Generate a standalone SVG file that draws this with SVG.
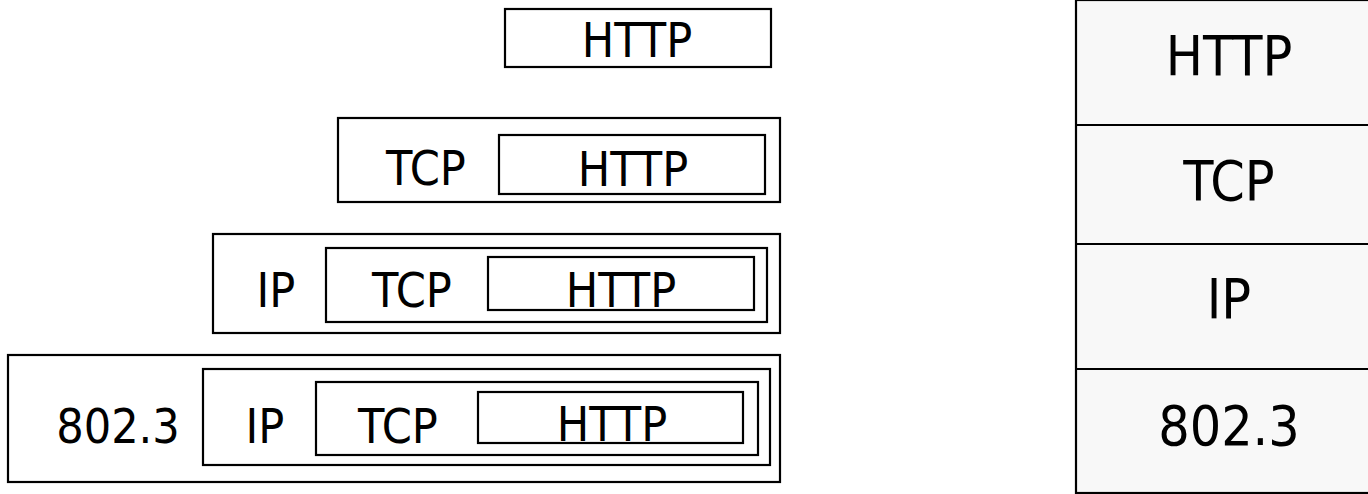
<svg xmlns="http://www.w3.org/2000/svg" width="1368" height="494" viewBox="0 0 1368 494">
<style>
.b{fill:none;stroke:#000;stroke-width:2.2}
.t{font-family:"DejaVu Sans Condensed","DejaVu Sans",sans-serif;font-size:48px;text-anchor:middle;fill:#000}
.s{font-family:"DejaVu Sans Condensed","DejaVu Sans",sans-serif;font-size:55px;text-anchor:middle;fill:#000}
</style>
<rect width="1368" height="494" fill="#fff"/>
<g id="row1">
<rect class="b" x="505" y="9" width="266" height="58"/>
<text class="t" x="637" y="57">HTTP</text>
</g>
<g id="row2">
<rect class="b" x="338" y="118" width="442" height="84"/>
<rect class="b" x="499" y="135" width="266" height="59"/>
<text class="t" x="426" y="185">TCP</text>
<text class="t" x="633" y="186">HTTP</text>
</g>
<g id="row3">
<rect class="b" x="213" y="234" width="567" height="99"/>
<rect class="b" x="326" y="248" width="441" height="74"/>
<rect class="b" x="488" y="257" width="266" height="53"/>
<text class="t" x="276" y="307">IP</text>
<text class="t" x="412" y="307">TCP</text>
<text class="t" x="621" y="307">HTTP</text>
</g>
<g id="row4">
<rect class="b" x="8" y="355" width="772" height="127"/>
<rect class="b" x="203" y="369" width="567" height="96"/>
<rect class="b" x="316" y="382" width="442" height="73"/>
<rect class="b" x="478" y="392" width="265" height="51"/>
<text class="t" x="118" y="443">802.3</text>
<text class="t" x="265" y="443">IP</text>
<text class="t" x="398" y="443">TCP</text>
<text class="t" x="612" y="441">HTTP</text>
</g>
<g id="stack">
<rect x="1076" y="0" width="300" height="493" fill="#f8f8f8" stroke="#000" stroke-width="2.2"/>
<line class="b" x1="1076" y1="125" x2="1368" y2="125"/>
<line class="b" x1="1076" y1="244" x2="1368" y2="244"/>
<line class="b" x1="1076" y1="369" x2="1368" y2="369"/>
<text class="s" x="1229" y="75">HTTP</text>
<text class="s" x="1229" y="200">TCP</text>
<text class="s" x="1229" y="318">IP</text>
<text class="s" x="1229" y="445">802.3</text>
</g>
<g id="connectors"/>
</svg>
